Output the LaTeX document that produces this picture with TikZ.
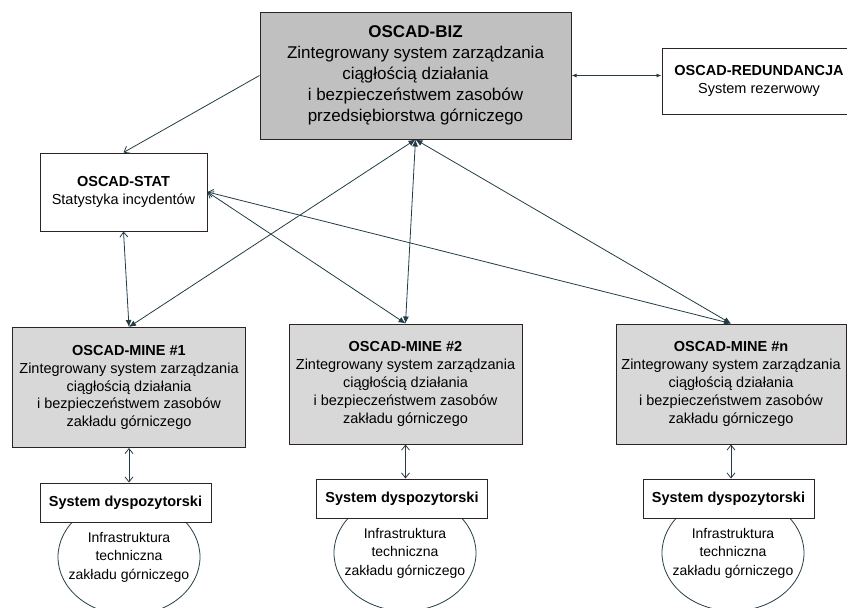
\documentclass[tikz,border=0pt]{standalone}
\usepackage{fontspec}
\setmainfont{Liberation Sans}
\usetikzlibrary{arrows.meta,shapes.geometric}
\definecolor{edge}{RGB}{45,35,35}
\definecolor{wire}{RGB}{35,60,70}
\definecolor{darkfill}{RGB}{192,192,192}
\definecolor{lightfill}{RGB}{216,216,216}

\begin{document}
\begin{tikzpicture}[x=1pt,y=-1pt,
  box/.style={draw=edge, line width=1pt, align=center, inner sep=0pt, font=\fontsize{14.5}{17.8}\selectfont},
  mainbox/.style={box, fill=darkfill, minimum width=311pt, minimum height=127pt, font=\fontsize{17}{21}\selectfont},
  minebox/.style={box, fill=lightfill, minimum width=233pt, minimum height=120pt},
  plainbox/.style={box, fill=white},
  dispbox/.style={plainbox, minimum width=171pt, minimum height=39pt, font=\fontsize{14.5}{17}\selectfont\bfseries},
  infra/.style={ellipse, draw=wire, line width=0.8pt, minimum width=142pt, minimum height=116pt},
  infratext/.style={align=center, inner sep=0pt, font=\fontsize{14}{18.5}\selectfont},
  link/.style={draw=wire, line width=0.8pt},
  both/.style={link, {Latex[length=7pt,width=6pt]}-{Latex[length=7pt,width=6pt]}},
  tostat/.style={link, {Straight Barb[length=5pt,width=8pt]}-{Latex[length=7pt,width=6pt]}},
  openboth/.style={link, {Straight Barb[length=5pt,width=8pt]}-{Straight Barb[length=5pt,width=8pt]}}
]
\useasboundingbox (0,0) rectangle (847,608);
\clip (0,0) rectangle (847,608);

% infrastructure ellipses
\node[infra] (infra1) at (129,557) {};
\node[infra] (infra2) at (405,553) {};
\node[infra] (infran) at (733,553) {};
\node[infratext] at (infra1) {Infrastruktura\\techniczna\\zakładu górniczego};
\node[infratext] at (infra2) {Infrastruktura\\techniczna\\zakładu górniczego};
\node[infratext] at (infran) {Infrastruktura\\techniczna\\zakładu górniczego};

% top level
\node[mainbox] (biz) at (415.5,75.5) {\textbf{OSCAD-BIZ}\\Zintegrowany system zarządzania\\ciągłością działania\\i bezpieczeństwem zasobów\\przedsiębiorstwa górniczego};
\node[plainbox, minimum width=194pt, minimum height=66pt] (redun) at (759,81) {\textbf{OSCAD-REDUNDANCJA}\\System rezerwowy};
\node[plainbox, minimum width=167pt, minimum height=78pt] (stat) at (123.5,192) {\textbf{OSCAD-STAT}\\Statystyka incydentów};

% mines
\node[minebox] (mine1) at (129,387.5) {\textbf{OSCAD-MINE \#1}\\Zintegrowany system zarządzania\\ciągłością działania\\i bezpieczeństwem zasobów\\zakładu górniczego};
\node[minebox] (mine2) at (405.5,384) {\textbf{OSCAD-MINE \#2}\\Zintegrowany system zarządzania\\ciągłością działania\\i bezpieczeństwem zasobów\\zakładu górniczego};
\node[minebox, minimum width=230pt] (minen) at (731,384) {\textbf{OSCAD-MINE \#n}\\Zintegrowany system zarządzania\\ciągłością działania\\i bezpieczeństwem zasobów\\zakładu górniczego};

% dispatch systems
\node[dispbox] (disp1) at (125.5,502.5) {System dyspozytorski};
\node[dispbox] (disp2) at (402,498.5) {System dyspozytorski};
\node[dispbox] (dispn) at (728.5,498.5) {System dyspozytorski};

% connections
\draw[link, -{Straight Barb[length=5pt,width=8pt]}] (biz.west) -- (stat.north);
\draw[link, {Latex[length=5pt,width=4pt]}-{Latex[length=5pt,width=4pt]}] (biz.east) -- (biz.east -| redun.west);
\draw[tostat] (stat.south) -- (mine1.north);
\draw[tostat] (stat.east) -- (mine2.north);
\draw[tostat] (stat.east) -- (minen.north);
\draw[both] (biz.south) -- (mine1.north);
\draw[both] (biz.south) -- (mine2.north);
\draw[both] (biz.south) -- (minen.north);
\draw[openboth] (mine1.south) -- (mine1.south |- disp1.north);
\draw[openboth] (mine2.south) -- (mine2.south |- disp2.north);
\draw[openboth] (minen.south) -- (minen.south |- dispn.north);
\end{tikzpicture}
\end{document}
